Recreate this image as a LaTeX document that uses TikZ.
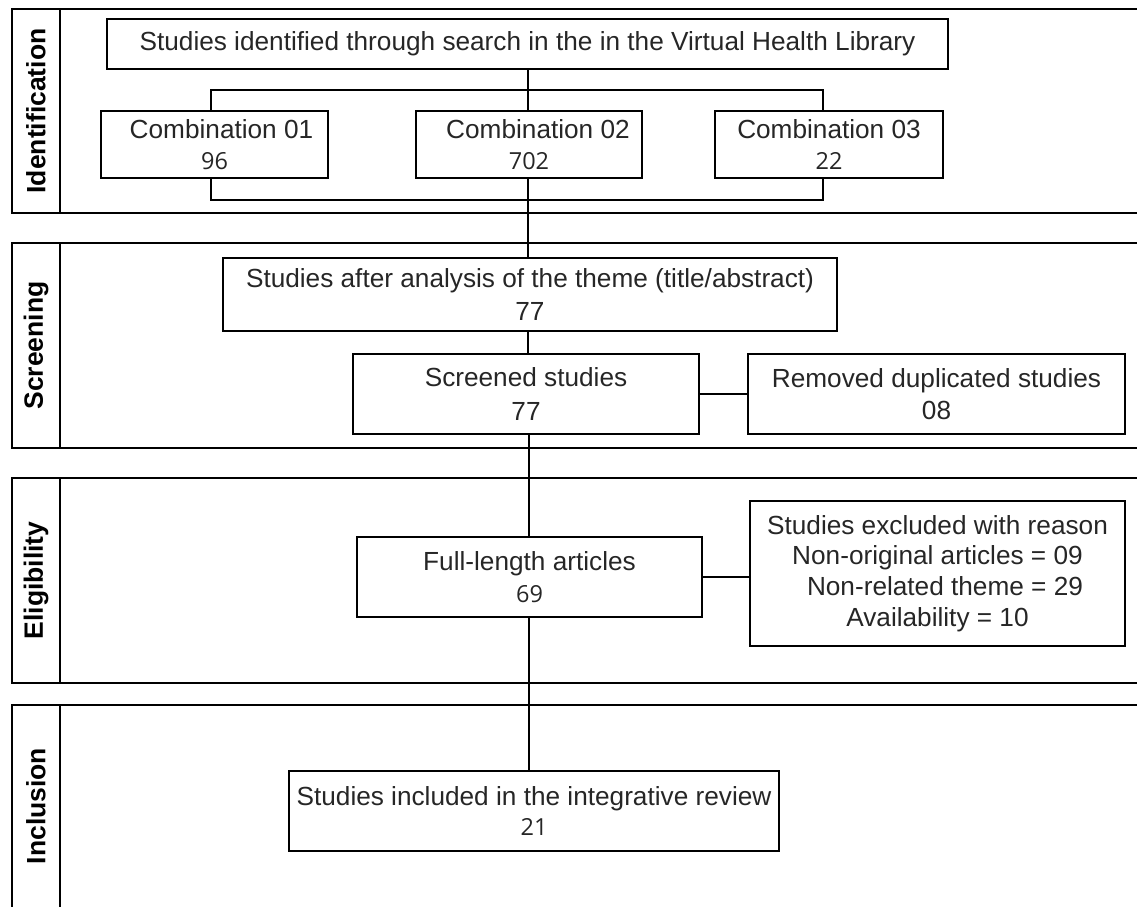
\documentclass[tikz,border=0pt]{standalone}
\usepackage{fontspec}
\setmainfont{Liberation Sans}
\newfontfamily\numfont{Open Sans}
\newcommand{\numtxt}[1]{{\numfont\fontsize{23.5}{31}\selectfont #1}}
\begin{document}
\begin{tikzpicture}[x=1pt,y=-1pt,line width=2.5pt,
  box/.style={draw=black, line width=2.5pt, inner sep=0pt, align=center, text=black!85,
    font=\fontsize{26.2}{31}\selectfont},
  lab/.style={rotate=90, text=black, font=\bfseries\fontsize{26.5}{30}\selectfont},
  panel/.style={draw=black, line width=2.5pt},
  conn/.style={draw=black, line width=2.5pt}]
\useasboundingbox (0,0) rectangle (1137,906);
\clip (0,0) rectangle (1137,906);
% panels
\draw[panel] (1150,9) -- (12,9) -- (12,213) -- (1150,213);
\draw[panel] (60,9) -- (60,213);
\draw[panel] (1150,243) -- (12,243) -- (12,448) -- (1150,448);
\draw[panel] (60,243) -- (60,448);
\draw[panel] (1150,478) -- (12,478) -- (12,683) -- (1150,683);
\draw[panel] (60,478) -- (60,683);
\draw[panel] (12,920) -- (12,705) -- (1150,705);
\draw[panel] (60,705) -- (60,920);
% labels
\node[lab] (l1) at (36,111) {Identification};
\node[lab] (l2) at (36,345.5) {Screening};
\node[lab] (l3) at (36,580.5) {Eligibility};
\node[lab] (l4) at (36,806) {Inclusion};
% boxes
\node[box, minimum width=841pt, minimum height=50pt] (top) at (527.5,44)
  {Studies identified through search in the in the Virtual Health Library};
\node[box, minimum width=227pt, minimum height=67pt] (c1) at (214.5,144.5)
  {\hspace*{14pt}Combination 01\\\numtxt{96}};
\node[box, minimum width=226pt, minimum height=67pt] (c2) at (529,144.5)
  {\hspace*{18pt}Combination 02\\\numtxt{702}};
\node[box, minimum width=228pt, minimum height=67pt] (c3) at (829,144.5)
  {Combination 03\\\numtxt{22}};
\node[box, minimum width=614pt, minimum height=73pt, font=\fontsize{26.2}{33}\selectfont] (an) at (530,294.5)
  {Studies after analysis of the theme (title/abstract)\\77};
\node[box, minimum width=346pt, minimum height=80pt, font=\fontsize{26.2}{34}\selectfont] (sc) at (526,394)
  {Screened studies\\77};
\node[box, minimum width=377pt, minimum height=80pt, font=\fontsize{26.2}{32}\selectfont] (rm) at (936.5,394)
  {Removed duplicated studies\\08};
\node[box, minimum width=345pt, minimum height=80pt, font=\fontsize{26.2}{32}\selectfont] (fl) at (529.5,577)
  {Full-length articles\\\numtxt{69}};
\node[box, minimum width=375pt, minimum height=145pt, font=\fontsize{26.2}{30.7}\selectfont] (ex) at (937.5,573.5)
  {Studies excluded with reason\\Non-original articles = 09\\\hspace*{15pt}Non-related theme = 29\\Availability = 10};
\node[box, minimum width=490pt, minimum height=80pt, font=\fontsize{26.2}{30}\selectfont] (inc) at (534,811)
  {Studies included in the integrative review\\\numtxt{21}};
% connectors
\coordinate (ax) at (528,0);
\coordinate (ax2) at (529,0);
\coordinate (bl) at (211,90);
\coordinate (br) at (823,90);
\coordinate (bl2) at (211,200);
\coordinate (br2) at (823,200);
\draw[conn] (top.south -| ax) -- (c2.north -| ax);
\draw[conn] (c1.north -| bl) -- (bl) -- (br) -- (c3.north -| br);
\draw[conn] (c1.south -| bl) -- (bl2) -- (br2) -- (c3.south -| br);
\draw[conn] (c2.south -| ax) -- (an.north -| ax);
\draw[conn] (an.south -| ax) -- (sc.north -| ax);
\draw[conn] (sc.east) -- (rm.west);
\draw[conn] (sc.south -| ax2) -- (fl.north -| ax2);
\draw[conn] (fl.east) -- (fl.east -| ex.west);
\draw[conn] (fl.south -| ax2) -- (inc.north -| ax2);
\end{tikzpicture}
\end{document}
